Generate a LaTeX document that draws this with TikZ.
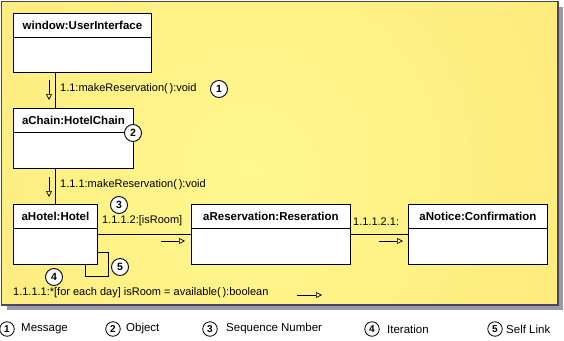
\documentclass[tikz,border=0pt]{standalone}
\usepackage{fontspec}
\setmainfont{Liberation Sans}
\usetikzlibrary{arrows.meta}
\definecolor{panelin}{HTML}{FFF88F}
\definecolor{panelout}{HTML}{FDDF6E}
\definecolor{frame}{HTML}{4A4466}
\definecolor{shadowc}{HTML}{9C9AA6}
\tikzset{
  obj/.style={draw, fill=white, line width=0.9pt, anchor=north west, inner sep=0pt},
  ttl/.style={font=\bfseries\fontsize{11.5}{13}\selectfont, inner sep=0pt},
  lbl/.style={font=\fontsize{11}{13}\selectfont, anchor=west, inner sep=0pt},
  num/.style={circle, draw, fill=white, line width=0.9pt, minimum size=17pt, inner sep=0pt, font=\bfseries\fontsize{10.5}{12}\selectfont},
  lnum/.style={circle, draw, fill=white, line width=0.8pt, minimum size=14.5pt, inner sep=0pt, font=\bfseries\fontsize{10}{12}\selectfont},
  legtext/.style={font=\fontsize{11.5}{13}\selectfont, anchor=west, inner sep=0pt},
  msg/.style={-{Triangle[open,length=6pt,width=6pt]}, line width=0.7pt},
  link/.style={line width=0.9pt}
}
\begin{document}
\begin{tikzpicture}[x=1pt,y=-1pt]
\useasboundingbox (0,0) rectangle (564,340);
% panel with shadow
\fill[shadowc] (7,7) rectangle (563,310);
\begin{scope}
  \clip (1.5,1.5) rectangle (558,305);
  \shade[inner color=panelin, outer color=panelout] (-400,-480) rectangle (900,820);
\end{scope}
\draw[frame, line width=1.2pt] (1.5,1.5) rectangle (558,305);

% objects
\node[obj, minimum width=138pt, minimum height=59pt] (ui) at (13,13) {};
\node[obj, minimum width=120pt, minimum height=60pt] (chain) at (13,108) {};
\node[obj, minimum width=84pt, minimum height=60pt] (hotel) at (13,204) {};
\node[obj, minimum width=159pt, minimum height=60pt] (res) at (191,204) {};
\node[obj, minimum width=139pt, minimum height=60pt] (note) at (408,204) {};

% dividers
\foreach \b in {ui,chain,hotel,res,note}{
  \draw[line width=0.9pt] ([yshift=-24pt]\b.north west) -- ([yshift=-24pt]\b.north east);
}
% titles
\node[ttl] (uit) at ([yshift=-12pt]ui.north) {window:UserInterface};
\node[ttl] (chaint) at ([yshift=-12pt]chain.north) {aChain:HotelChain};
\node[ttl] (hotelt) at ([yshift=-12pt]hotel.north) {aHotel:Hotel};
\node[ttl] (rest) at ([yshift=-12pt]res.north) {aReservation:Reseration};
\node[ttl] (notet) at ([yshift=-12pt]note.north) {aNotice:Confirmation};

% links
\draw[link] ([xshift=42pt]ui.south west) -- ([xshift=42pt]chain.north west);
\draw[link] ([xshift=42pt]chain.south west) -- ([xshift=42pt]hotel.north west);
\draw[link] (hotel.east) -- (res.west);
\draw[link] (res.east) -- (note.west);
% self link
\draw[link] (hotel.south east) ++(-12,0) -- ++(0,12) -- ++(23,0) -- ++(0,-24) -- ++(-11,0);

% message arrows
\coordinate (a1s) at (49,80); \coordinate (a1e) at (49,100);
\coordinate (a2s) at (49,177); \coordinate (a2e) at (49,197);
\coordinate (a3s) at (161,241); \coordinate (a3e) at (185,241);
\coordinate (a4s) at (379,241); \coordinate (a4e) at (403,241);
\coordinate (a5s) at (297,295); \coordinate (a5e) at (322,295);
\draw[msg] (a1s) -- (a1e);
\draw[msg] (a2s) -- (a2e);
\draw[msg] (a3s) -- (a3e);
\draw[msg] (a4s) -- (a4e);
\draw[msg] (a5s) -- (a5e);

% labels
\node[lbl] (m1) at (60,89) {1.1:makeReservation(\,):void};
\node[lbl] (m2) at (60,185) {1.1.1:makeReservation(\,):void};
\node[lbl] (m3) at (102,221) {1.1.1.2:[isRoom]};
\node[lbl] (m4) at (353,222) {1.1.1.2.1:};
\node[lbl] (m5) at (13,293) {1.1.1.1:*[for each day] isRoom = available(\,):boolean};

% numbered markers
\node[num] (n1) at (219,89) {1};
\node[num] (n2) at (133,133) {2};
\node[num] (n3) at (119,205) {3};
\node[num] (n4) at (54,277) {4};
\node[num] (n5) at (120,267) {5};

% legend
\node[lnum] (l1) at (7,329) {1};
\node[legtext] (l1t) at (21,329) {Message};
\node[lnum] (l2) at (113,329) {2};
\node[legtext] (l2t) at (126,329) {Object};
\node[lnum] (l3) at (210,329) {3};
\node[legtext] (l3t) at (226,329) {Sequence Number};
\node[lnum] (l4) at (372,329) {4};
\node[legtext] (l4t) at (387,329) {Iteration};
\node[lnum] (l5) at (495,329) {5};
\node[legtext] (l5t) at (506,329) {Self Link};
\end{tikzpicture}
\end{document}
